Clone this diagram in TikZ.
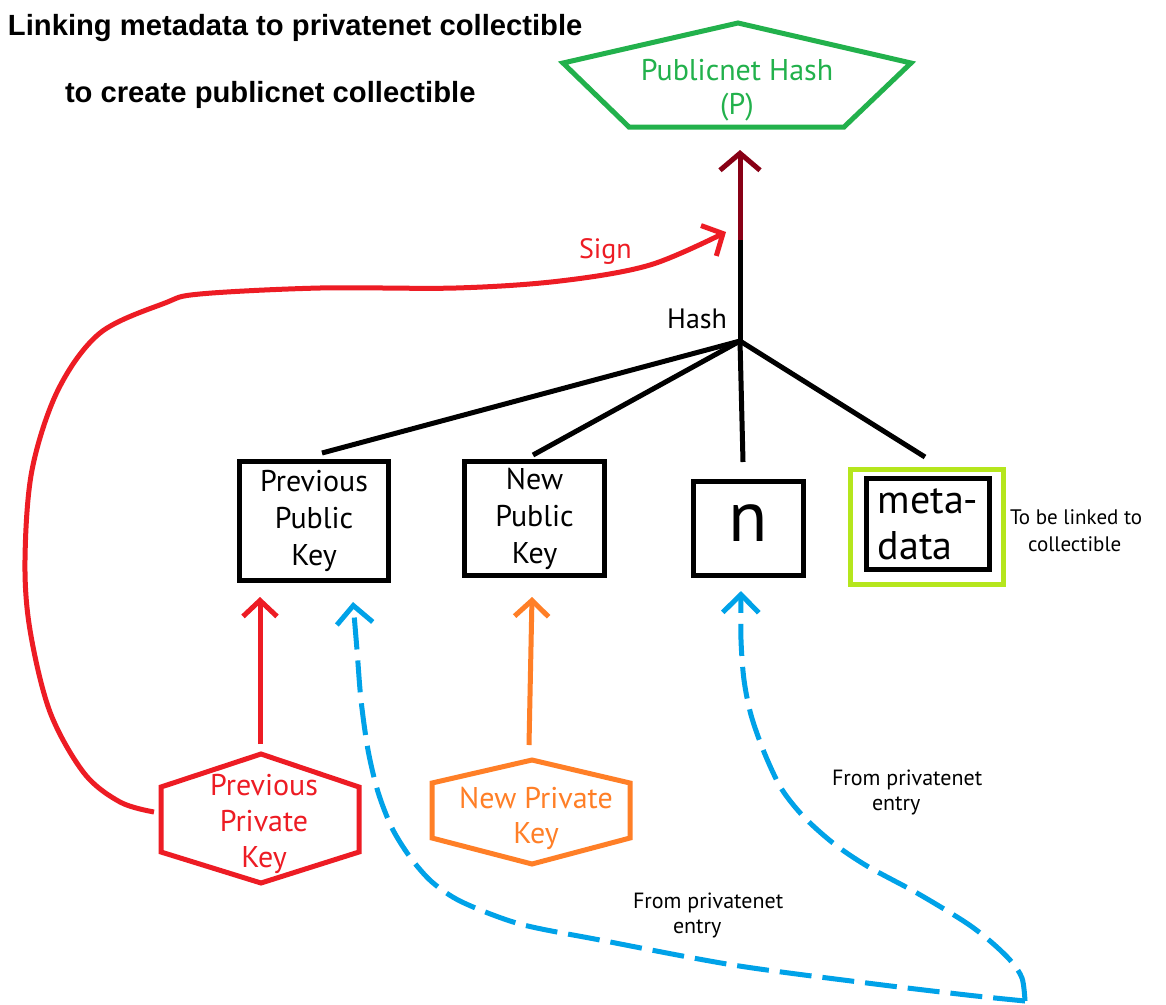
\documentclass[tikz,border=0pt]{standalone}
\usepackage{fontspec}
\setmainfont{PT Sans}
\newfontfamily\titlefont{Liberation Sans}
\usetikzlibrary{arrows.meta,calc}
\definecolor{pgreen}{HTML}{22B14C}
\definecolor{pred}{HTML}{ED1C24}
\definecolor{porange}{HTML}{FF7F27}
\definecolor{pblue}{HTML}{00A2E8}
\definecolor{pdarkred}{HTML}{880015}
\definecolor{plime}{HTML}{B5E61D}
\begin{document}
\begin{tikzpicture}[x=1pt,y=-1pt,line width=5pt,
  every node/.style={inner sep=0pt,outer sep=0pt},
  keybox/.style={draw=black,line width=5pt,align=center,font=\fontsize{30}{37}\selectfont},
  titletext/.style={anchor=base west,font=\titlefont\bfseries\fontsize{29.2}{35}\selectfont},
  smalltext/.style={anchor=west,align=left,font=\fontsize{22}{25}\selectfont},
  hexline/.style={line width=5pt,line join=miter},
  tip/.style={-{Straight Barb[length=16pt,width=34pt]}},
  bluetip/.style={-{Straight Barb[length=18pt,width=36pt]}},
  hashline/.style={draw=black,line width=5pt},
  dashblue/.style={draw=pblue,line width=5pt,dash pattern=on 32pt off 11pt}]
\useasboundingbox (0,0) rectangle (1166,1004);
\fill[white] (0,0) rectangle (1166,1004);

% title
\node[titletext] (t1) at (8,35) {Linking metadata to privatenet collectible};
\node[titletext] (t2) at (65,102) {to create publicnet collectible};

% publicnet hash pentagon
\draw[pgreen,hexline] (738,23) -- (911,63) -- (844,127) -- (629,127) -- (563,63) -- cycle;
\node[pgreen,align=center,font=\fontsize{30}{34}\selectfont] (pub) at (737,90) {Publicnet Hash\\(P)};

% boxes
\node[keybox,minimum width=149pt,minimum height=119pt] (ppk) at (314,521) {Previous\\Public\\Key};
\node[keybox,minimum width=140pt,minimum height=114pt] (npk) at (534.5,518.5) {New\\Public\\Key};
\node[keybox,minimum width=110pt,minimum height=94pt,font=\fontsize{72}{72}\selectfont,text height=36pt,text depth=10pt] (nbox) at (748.5,528) {n};
\node[draw=plime,line width=5pt,minimum width=153pt,minimum height=115pt] (metaout) at (927,527) {};
\node[keybox,minimum width=123pt,minimum height=91pt,align=left,font=\fontsize{40}{46}\selectfont] (meta) at (928,524) {meta-\\data};
\node[smalltext,font=\fontsize{21}{27}\selectfont] (link) at (1010,531) {To be linked to\\\hspace*{18pt}collectible};

% hash junction
\coordinate (hj) at (740,341);
\coordinate (hm) at (740,240);
\coordinate (ptip) at (740,150);
\node[anchor=base east,font=\fontsize{28}{30}\selectfont] (hashlbl) at (727,328) {Hash};
\draw[hashline] (hj) -- (hm);
\draw[pdarkred,line width=5pt,-{Straight Barb[length=17pt,width=40pt]}] (hm) -- (ptip);
\draw[hashline] (hj) -- ([xshift=8pt,yshift=8.5pt]ppk.north);
\draw[hashline] (hj) -- ([xshift=-1.5pt,yshift=6.5pt]npk.north);
\draw[hashline] (hj) -- ([xshift=-5.5pt,yshift=19pt]nbox.north);
\draw[hashline] (hj) -- ([xshift=-2pt,yshift=12.5pt]metaout.north);

% private keys
\draw[pred,hexline] (261,754) -- (359,787) -- (359,852) -- (261,883) -- (161,852) -- (161,787) -- cycle;
\node[pred,align=center,font=\fontsize{30}{36}\selectfont] (pvk) at (264,823.5) {Previous\\Private\\Key};
\draw[porange,hexline] (532,760) -- (630,783) -- (630,838) -- (532,864) -- (432,838) -- (432,783) -- cycle;
\node[porange,align=center,font=\fontsize{30}{35}\selectfont] (nvk) at (536,818.5) {New Private\\Key};

\coordinate (pvktop) at (260,744);
\coordinate (ppkred) at (260,597);
\coordinate (nvktop) at (529,745);
\coordinate (npkin) at (532,597);
\draw[pred,tip] (pvktop) -- (ppkred);
\draw[porange,tip] (nvktop) -- (npkin);

% sign curve
\coordinate (pvkleft) at (154,812);
\coordinate (signtip) at (726,232);
\draw[pred,tip] plot[smooth,tension=0.55] coordinates {(pvkleft) (120,802) (84,773) (50,712) (30,630) (25,560) (32,470) (58,390) (100,333) (165,303) (200,294) (320,288) (456,288) (560,281) (650,265) (signtip)};
\node[pred,anchor=base west,font=\fontsize{28}{30}\selectfont] (sign) at (579,258) {Sign};

% blue dashed
\coordinate (ppkblue) at (353,602);
\coordinate (corner) at (1025,1001);
\coordinate (nin) at (741,591);
\draw[dashblue,bluetip] plot[smooth,tension=0.5] coordinates {(corner) (967,995) (867,983) (733,965) (600,940) (520,924) (462,902) (432,882) (410,857) (392,828) (378,792) (368,750) (361,700) (357,650) (ppkblue)};
\draw[dashblue,bluetip] plot[smooth,tension=0.5] coordinates {(corner) (1022,978) (1010,960) (990,941) (965,922) (917,893) (867,866) (833,843) (803,816) (781,788) (764,752) (751,715) (744,680) (741,640) (nin)};

\node[smalltext] (fp1) at (832,792) {From privatenet\\\hspace*{40pt}entry};
\node[smalltext] (fp2) at (633,915) {From privatenet\\\hspace*{40pt}entry};
\end{tikzpicture}
\end{document}
